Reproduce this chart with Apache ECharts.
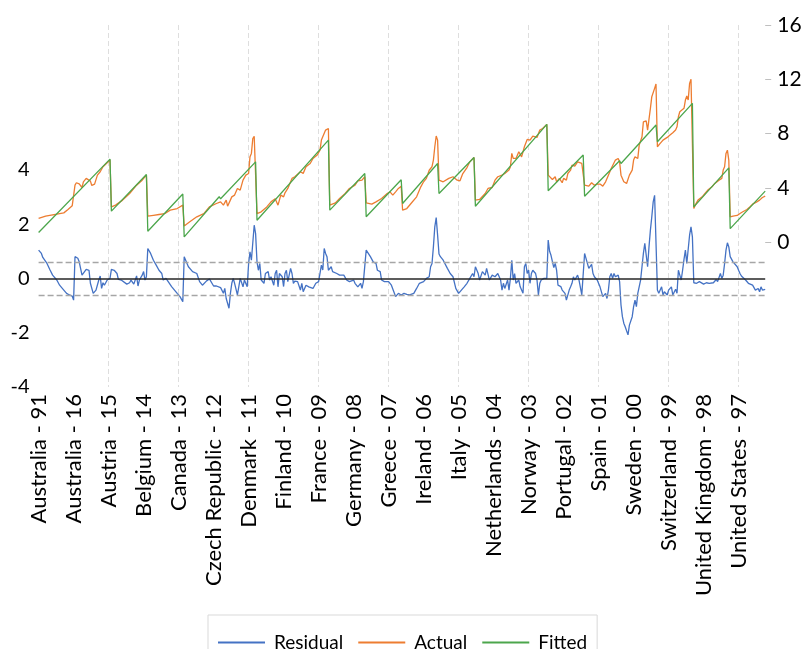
<!DOCTYPE html>
<html lang="en">
<head>
    <meta charset="UTF-8">
    <title>Residual / Actual / Fitted</title>
    <style>
        html, body { margin: 0; padding: 0; background: #fff; }
        #chart { width: 803px; height: 649px; }
    </style>
    <script src="https://cdn.jsdelivr.net/npm/echarts@6/dist/echarts.min.js"></script>
</head>
<body>
<div id="chart"></div>
<script>
// panel: 20 countries x 26 years (1991-2016)
var countries = ['Australia', 'Austria', 'Belgium', 'Canada', 'Czech Republic', 'Denmark', 'Finland', 'France',
    'Germany', 'Greece', 'Ireland', 'Italy', 'Netherlands', 'Norway', 'Portugal', 'Spain', 'Sweden',
    'Switzerland', 'United Kingdom', 'United States'];
var years = ['91', '92', '93', '94', '95', '96', '97', '98', '99', '00', '01', '02', '03',
    '04', '05', '06', '07', '08', '09', '10', '11', '12', '13', '14', '15', '16'];

var leftTicks = [-4, -2, 0, 2, 4];
var rightTicks = [0, 4, 8, 12, 16];
var sigma = 0.61;

// [observation index, value]
var residual = [
    [0,1.04],[2,0.92],[3,0.77],[6,0.55],[8,0.33],[10,0.12],[13,-0.06],[15,-0.25],[18,-0.43],[20,-0.55],[22,-0.61],[24,-0.65],[25,-0.8],
    [26,0.8],[28,0.74],[29,0.61],[31,0.12],[32,0.12],[34,0.33],[36,0.3],[37,-0.18],[39,-0.55],[40,-0.61],[41,-0.43],[43,-0.06],[44,0.09],[45,-0.37],[46,-0.16],[47,-0.25],[49,-0.06],[50,-0.12],[51,0],
    [52,0.33],[54,0.3],[56,0.18],[57,-0.04],[59,-0.06],[60,-0.12],[63,-0.21],[65,-0.16],[66,-0.06],[68,-0.21],[70,0.09],[71,-0.28],[72,-0.06],[74,0.12],[75,0.25],[76,-0.06],[77,0.06],
    [78,1.1],[80,0.92],[82,0.67],[84,0.49],[86,0.3],[88,0.18],[89,-0.06],[91,0],[95,-0.3],[99,-0.55],[101,-0.67],[103,-0.86],
    [104,0.8],[107,0.43],[110,0.25],[113,0.18],[115,-0.12],[117,-0.25],[120,-0.09],[122,-0.02],[125,-0.28],[127,-0.28],[130,-0.34],[132,-0.55],[133,-0.37],[134,-0.74],[136,-1.1],[137,-0.55],[138,-0.18],[139,0],[140,-0.18],[142,-0.61],[143,-0.31],[144,0],[145,-0.06],[146,-0.31],[147,-0.06],[149,-0.31],[150,0.54],[151,0.98],[152,0.67],[154,1.96],[155,1.65],
    [156,0.61],[157,0.3],[158,0.55],[159,-0.06],[161,-0.18],[162,0.18],[164,0.25],[165,-0.06],[166,0.06],[168,-0.25],[169,0.18],[170,0.3],[171,-0.31],[172,0.18],[174,0.06],[175,-0.3],[176,0.18],[177,0.3],[178,-0.12],[180,0.37],[181,0.18],[182,-0.18],[183,-0.1],[185,-0.12],[187,-0.43],[188,-0.18],[189,-0.49],[191,-0.25],[193,-0.31],[194,-0.37],[196,-0.37],[198,-0.18],[200,-0.12],[201,-0.06],[202,0.49],[203,0.31],[204,1.1],[205,0.92],[206,0.8],[207,0.3],
    [208,0.3],[209,0.43],[210,0.25],[213,0.18],[215,0.12],[218,0.12],[220,-0.06],[222,-0.12],[225,-0.06],[226,-0.18],[227,-0.12],[228,-0.31],[230,-0.18],[231,-0.37],[232,-0.12],[233,-0.06],
    [234,1.04],[237,0.8],[239,0.61],[241,0.55],[242,0.3],[244,0.25],[245,-0.06],[247,-0.12],[250,-0.12],[252,-0.25],[253,-0.31],[255,-0.67],[257,-0.55],[259,-0.61],
    [260,-0.55],[261,-0.55],[263,-0.59],[265,-0.61],[268,-0.55],[270,-0.37],[272,-0.18],[275,-0.12],[277,0],[279,0.06],[280,0.43],[281,0.55],[282,1.16],[283,1.9],[284,2.24],[285,1.6],
    [286,0.9],[287,0.8],[289,0.67],[292,0.37],[294,0.18],[296,0.06],[298,-0.37],[300,-0.55],[302,-0.43],[304,-0.31],[306,-0.18],[308,0],[309,-0.06],[310,0.18],[311,0.06],
    [312,0.43],[314,0.18],[315,-0.06],[317,0.25],[319,0.12],[320,0.37],[322,-0.06],[324,0.12],[326,0.06],[328,0.18],[330,-0.06],[331,-0.43],[332,-0.18],[333,-0.37],[335,-0.06],[336,-0.43],[337,0],[338,0.67],[339,-0.06],[340,0.18],[341,-0.18],[343,-0.06],[344,-0.31],[346,-0.55],[347,0.43],[348,0.55],[349,0.18],[350,0.31],[351,-0.18],[352,0.18],[353,0.3],[355,0.18],[356,-0.06],[357,-0.61],[358,-0.18],[359,-0.06],[361,0],[363,0],
    [364,1.41],[365,1.0],[366,0.85],[368,0.4],[369,0.55],[370,0.3],[371,-0.25],[373,-0.3],[374,-0.43],[375,-0.37],[376,-0.55],[377,-0.8],[379,-0.43],[380,-0.31],[381,-0.18],[382,0.06],[383,-0.06],[385,0.12],[386,-0.06],[387,-0.04],[388,-0.61],[389,-0.65],
    [390,0.92],[391,0.74],[392,0.8],[393,0.37],[395,0.52],[396,0.18],[397,0.06],[399,-0.06],[400,-0.12],[401,-0.31],[402,-0.37],[403,-0.67],[405,-0.55],[406,-0.74],[407,-0.43],[408,0.06],[409,0.18],[410,0],[411,0.18],[412,0.06],[414,0.12],[415,-0.12],
    [416,-0.98],[417,-1.41],[418,-1.65],[419,-1.78],[420,-1.72],[421,-2.08],[422,-1.72],[424,-1.41],[425,-1.04],[426,-0.8],[427,-1.04],[428,-0.55],[430,-0.06],[431,0.43],[432,0.92],[433,1.29],[434,1.23],[435,0.43],[436,1.16],[437,1.78],[438,2.27],[439,2.82],[440,3.06],[441,3.0],
    [442,-0.43],[443,-0.55],[445,-0.31],[446,-0.61],[447,-0.49],[448,-0.43],[449,-0.61],[450,-0.43],[452,-0.31],[453,-0.61],[454,-0.67],[455,-0.4],[456,-0.55],[457,0.3],[458,0.12],[459,-0.06],[460,0.3],[461,0.7],[462,1.04],[463,0.55],[464,0.5],[465,1.6],[466,1.9],[467,1.53],
    [468,-0.16],[470,-0.18],[472,-0.12],[475,-0.21],[477,-0.16],[479,-0.18],[482,-0.16],[484,-0.04],[485,-0.12],[487,0.18],[488,0],[489,0.12],[490,0.55],[491,1.04],[492,1.31],[493,1.16],
    [494,0.8],[496,0.61],[497,0.55],[499,0.43],[500,0.3],[501,0.18],[502,0.09],[503,0.06],[505,-0.06],[507,-0.18],[508,-0.16],[510,-0.25],[511,-0.31],[512,-0.43],[514,-0.37],[515,-0.49],[516,-0.31],[517,-0.43],[518,-0.37],[519,-0.4]
];

var actual = [
    [0,1.75],[5,1.92],[9,2.0],[13,2.06],[18,2.16],[21,2.41],[24,2.68],[25,2.8],
    [26,4.2],[27,4.38],[29,4.3],[31,4.03],[32,4.45],[34,4.7],[35,4.82],[37,4.5],[38,4.18],[40,4.28],[42,4.94],[44,5.19],[45,5.07],[46,5.56],[47,5.68],[49,5.85],[51,6.05],
    [52,2.6],[55,2.73],[60,3.1],[65,3.59],[70,4.2],[74,4.57],[77,4.94],
    [78,1.92],[82,1.98],[86,2.04],[90,2.1],[94,2.36],[99,2.48],[103,2.73],
    [104,1.2],[108,1.5],[113,1.87],[118,2.11],[122,2.6],[127,2.85],[130,2.97],[132,2.73],[134,3.1],[135,2.65],[138,3.34],[140,3.47],[142,3.96],[144,3.84],[146,4.57],[148,4.94],[150,5.06],[151,6.3],[152,6.54],[153,7.64],[154,7.8],[155,7.7],
    [156,2.11],[159,2.24],[163,2.6],[166,2.97],[169,3.2],[171,2.73],[173,3.47],[175,3.34],[176,3.64],[178,3.96],[181,4.7],[183,4.82],[184,4.94],[187,5.19],[189,5.07],[191,5.56],[194,5.8],[196,6.17],[199,6.42],[201,6.78],[202,7.52],[203,7.52],[205,8.26],[206,8.38],[207,8.38],
    [208,2.73],[212,2.9],[215,3.22],[219,3.59],[222,3.96],[226,4.2],[228,4.52],[231,4.57],[233,4.82],
    [234,2.9],[238,2.8],[241,2.97],[245,3.22],[249,3.59],[251,3.71],[253,3.47],[255,3.71],[257,3.96],[259,4.13],
    [260,2.36],[263,2.48],[266,2.85],[270,3.34],[273,4.08],[275,4.45],[277,4.7],[279,5.3],[281,5.56],[282,6.05],[283,7.03],[284,7.82],[285,7.52],
    [286,4.57],[289,4.45],[293,4.7],[296,4.82],[299,4.57],[301,4.52],[303,5.06],[306,5.5],[308,5.92],[311,6.24],
    [312,3.1],[315,3.15],[319,3.59],[321,3.96],[324,4.03],[326,4.57],[328,4.82],[331,4.94],[333,5.06],[336,5.31],[337,5.56],[338,6.54],[339,6.17],[341,6.17],[343,6.66],[345,6.29],[347,7.03],[349,7.57],[351,7.52],[353,7.82],[356,7.72],[358,8.26],[360,8.38],[363,8.68],
    [364,4.94],[367,4.62],[369,4.82],[370,4.45],[372,4.7],[374,4.38],[375,4.7],[377,4.57],[378,5.06],[380,5.31],[381,5.68],[383,5.6],[385,5.92],[386,6.05],[388,5.8],[389,5.8],
    [390,4.2],[391,4.33],[393,4.13],[395,4.38],[397,4.2],[399,4.28],[401,4.28],[403,4.13],[405,4.45],[407,4.94],[409,5.43],[410,5.31],[412,6.05],[414,6.17],[415,5.92],
    [416,4.94],[418,4.45],[420,4.33],[421,4.33],[422,4.94],[424,5.31],[425,6.05],[426,6.29],[428,6.17],[429,7.15],[431,7.77],[432,8.87],[434,8.94],[435,8.26],[437,9.86],[438,10.72],[440,11.33],[441,11.65],
    [442,7.03],[444,7.28],[446,7.52],[447,7.4],[449,7.72],[451,7.89],[453,8.06],[455,8.26],[456,8.5],[457,9.24],[458,9.61],[459,9.49],[461,9.86],[462,10.47],[463,10.77],[464,10.47],[465,11.7],[466,12.0],[467,11.95],
    [468,2.48],[469,2.73],[471,3.1],[474,3.34],[476,3.59],[478,3.84],[481,4.08],[483,4.33],[486,4.57],[488,4.7],[489,5.31],[490,5.56],[491,6.54],[492,6.78],[493,6.05],
    [494,1.87],[496,1.92],[499,1.97],[501,2.11],[503,2.24],[506,2.41],[508,2.6],[510,2.8],[513,2.97],[515,3.1],[517,3.29],[519,3.39]
];

var fitted = [
    [0,0.71],[51,6.12],[52,2.29],[77,4.99],[78,0.81],[103,3.55],[104,0.39],[129,3.35],[130,3.2],[155,5.92],
    [156,1.62],[207,7.52],[208,2.36],[233,5.06],[234,1.87],[259,4.6],[260,2.85],[285,5.8],[286,3.59],[311,6.24],
    [312,2.65],[363,8.68],[364,3.79],[389,6.42],[390,3.39],[415,6.0],[416,5.8],[441,8.63],[442,7.4],[467,10.23],
    [468,2.6],[493,5.48],[494,1.0],[519,3.76]
];

var categories = [];
for (var c = 0; c < countries.length; c++) {
    for (var y = 0; y < years.length; y++) {
        categories.push(countries[c] + ' - ' + years[y]);
    }
}

var font = 'Lato, "Open Sans", sans-serif';
var chart = echarts.init(document.getElementById('chart'));
var option = {
    animation: false,
    backgroundColor: '#fff',
    grid: { left: 38.6, right: 37.8, top: 25, bottom: 262, outerBoundsMode: 'none' },
    legend: {
        data: ['Residual', 'Actual', 'Fitted'],
        left: 208, top: 615,
        icon: 'rect', itemWidth: 47, itemHeight: 2, itemGap: 15,
        borderColor: '#d9d9d9', borderWidth: 1,
        padding: [18, 10, 15, 10],
        textStyle: { fontSize: 19, color: '#000', fontFamily: font, padding: [0, 0, 0, 4] }
    },
    xAxis: {
        type: 'category',
        data: categories,
        boundaryGap: false,
        axisLine: { show: false },
        axisTick: { show: false },
        axisLabel: {
            rotate: 90, margin: 7, fontSize: 22, color: '#000', fontFamily: font,
            interval: function (i) { return i % 25 === 0; }
        },
        splitLine: {
            show: true,
            interval: function (i) { return i > 0 && i % 50 === 0; },
            lineStyle: { color: '#dedede', type: [5, 3], width: 1 }
        }
    },
    yAxis: [
        {
            type: 'value', position: 'left', min: -4, max: 28 / 3,
            axisLine: { show: false }, axisTick: { show: false }, splitLine: { show: false },
            axisLabel: { customValues: leftTicks, margin: 9, fontSize: 20, color: '#000', fontFamily: font }
        },
        {
            type: 'value', position: 'right', min: -32 / 3, max: 16,
            axisLine: { show: false }, splitLine: { show: false },
            axisTick: { show: true, customValues: rightTicks, length: 6, lineStyle: { color: '#bfbfbf' } },
            axisLabel: { customValues: rightTicks, margin: 12, fontSize: 21, color: '#000', fontFamily: font }
        }
    ],
    series: [
        {
            name: 'Residual', type: 'line', yAxisIndex: 0, data: residual,
            symbol: 'none', color: '#4472C4', lineStyle: { width: 1.3 },
            markLine: {
                silent: true, symbol: ['none', 'none'], label: { show: false }, animation: false,
                data: [
                    { yAxis: 0, lineStyle: { color: '#262626', type: 'solid', width: 1.5 } },
                    { yAxis: sigma, lineStyle: { color: '#a6a6a6', type: [6, 3], width: 1.3 } },
                    { yAxis: -sigma, lineStyle: { color: '#a6a6a6', type: [6, 3], width: 1.3 } }
                ]
            }
        },
        {
            name: 'Actual', type: 'line', yAxisIndex: 1, data: actual,
            symbol: 'none', color: '#ED7D31', lineStyle: { width: 1.3 }
        },
        {
            name: 'Fitted', type: 'line', yAxisIndex: 1, data: fitted,
            symbol: 'none', color: '#4CA64C', lineStyle: { width: 1.3 }
        }
    ]
};
chart.setOption(option);
</script>
</body>
</html>
